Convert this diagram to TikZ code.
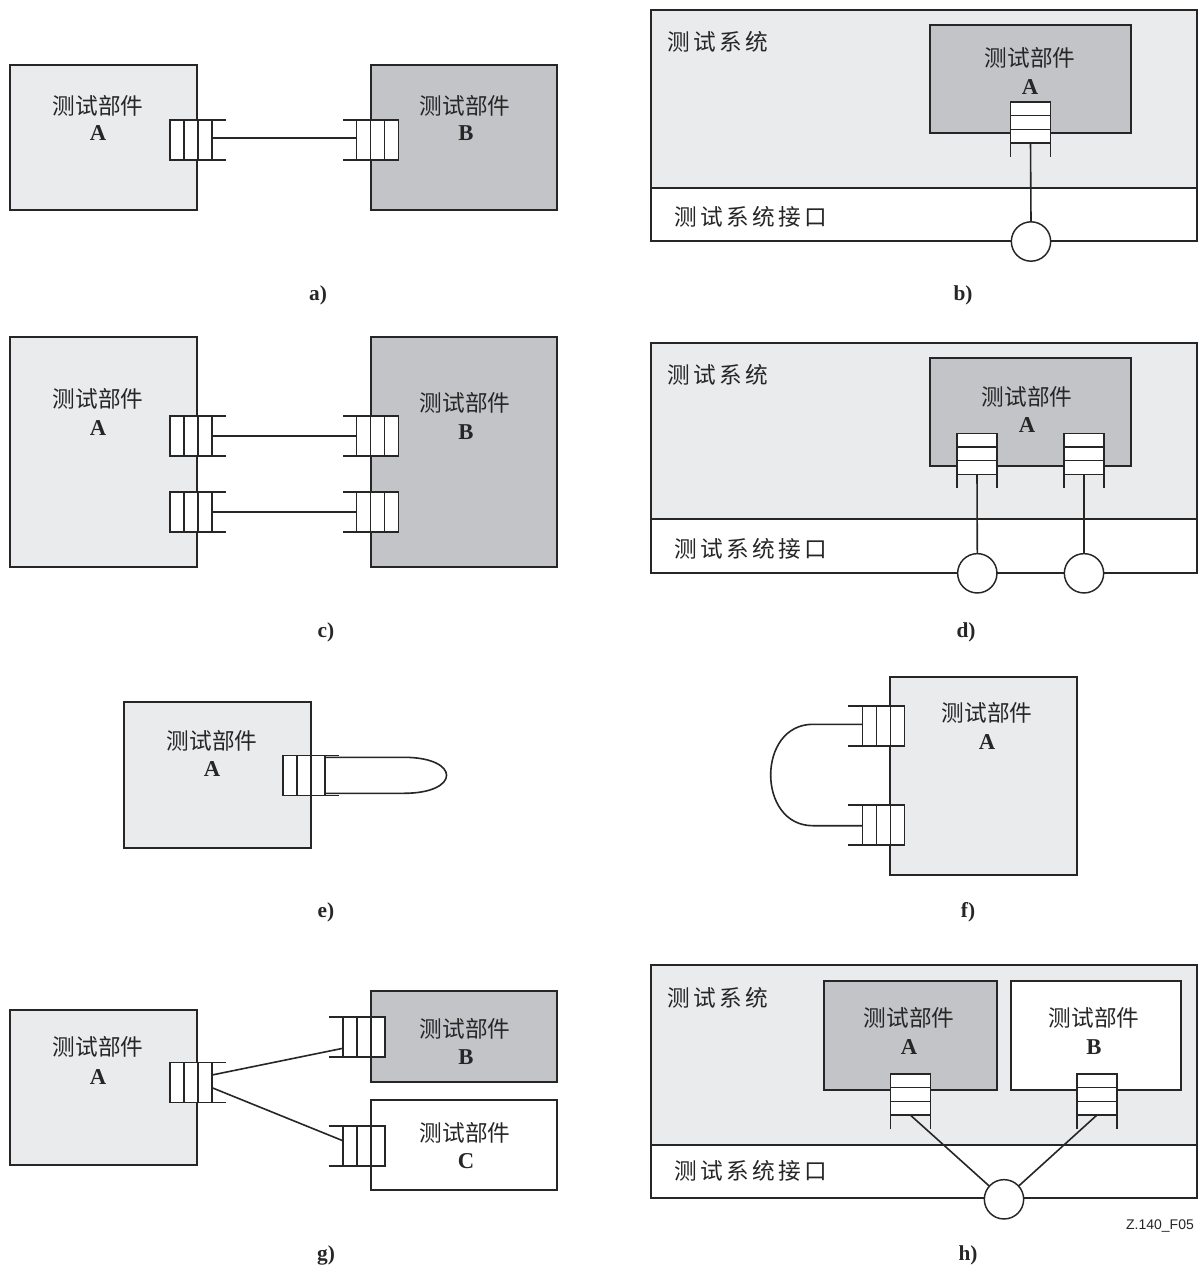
\documentclass[tikz,border=0pt]{standalone}
\usepackage{fontspec}
\setmainfont{Liberation Serif}
\setsansfont{Liberation Sans}
\newfontfamily\cjk{Noto Sans CJK SC}
\newfontfamily\cjksp{Noto Sans CJK SC}[LetterSpace=15]
\usetikzlibrary{calc}
\definecolor{lgray}{HTML}{EAEBED}
\definecolor{dgray}{HTML}{C3C4C7}
\definecolor{ln}{HTML}{262626}
\tikzset{
  bxs/.style={draw=ln, line width=1.2pt, inner sep=0pt, outer sep=0pt},
  lbox/.style={bxs, fill=lgray},
  dbox/.style={bxs, fill=dgray},
  wbox/.style={bxs, fill=white},
  pl/.style={draw=ln, line width=1.2pt},
  hport/.style={draw=ln, line width=1.2pt, fill=white, inner sep=0pt, outer sep=0pt, minimum width=31.5pt, minimum height=30pt},
  vport/.style={draw=ln, line width=1.2pt, fill=white, inner sep=0pt, outer sep=0pt, minimum width=30pt, minimum height=30.75pt},
  sap/.style={circle, draw=ln, line width=1.1pt, fill=white, inner sep=0pt, outer sep=0pt, minimum size=29.5pt},
  cj/.style={inner sep=0pt, font=\cjk\fontsize{17}{20}\selectfont, text=ln},
  cjl/.style={inner sep=0pt, anchor=west, font=\cjksp\fontsize{17}{20}\selectfont, text=ln},
  bl/.style={inner sep=0pt, font=\fontsize{17}{20}\selectfont\bfseries, text=ln},
  lab/.style={inner sep=0pt, font=\fontsize{16}{19}\selectfont\bfseries, text=ln},
}
\newcommand\bx[6]{\node[#6, anchor=north west, minimum width={(#4-#2)*0.75pt}, minimum height={(#5-#3)*0.75pt}] (#1) at (#2,#3) {};}
\newcommand\portR[3]{%
  \node[hport] (#1) at (#2,#3) {};
  \draw[pl] ($(#1.north west)!1/3!(#1.north east)$) -- ($(#1.south west)!1/3!(#1.south east)$)
            ($(#1.north west)!2/3!(#1.north east)$) -- ($(#1.south west)!2/3!(#1.south east)$)
            (#1.north east) -- ++(14,0) (#1.south east) -- ++(14,0);}
\newcommand\portL[3]{%
  \node[hport] (#1) at (#2,#3) {};
  \draw[pl] ($(#1.north west)!1/3!(#1.north east)$) -- ($(#1.south west)!1/3!(#1.south east)$)
            ($(#1.north west)!2/3!(#1.north east)$) -- ($(#1.south west)!2/3!(#1.south east)$)
            (#1.north west) -- ++(-14,0) (#1.south west) -- ++(-14,0);}
\newcommand\portD[3]{%
  \node[vport] (#1) at (#2,#3) {};
  \draw[pl] ($(#1.north west)!1/3!(#1.south west)$) -- ($(#1.north east)!1/3!(#1.south east)$)
            ($(#1.north west)!2/3!(#1.south west)$) -- ($(#1.north east)!2/3!(#1.south east)$)
            (#1.south west) -- ++(0,14) (#1.south east) -- ++(0,14);}
\begin{document}
\begin{tikzpicture}[x=0.75pt,y=-0.75pt]
\useasboundingbox (0,0) rectangle (1198,1277);
\fill[white] (0,0) rectangle (1198,1277);

% ---------- a)
\bx{aA}{10}{65}{197}{210}{lbox}
\bx{aB}{371}{65}{557}{210}{dbox}
\node[cj] (aAt) at (98,106) {测试部件};
\node[bl] (aAl) at (98,133) {A};
\node[cj] (aBt) at (465,106) {测试部件};
\node[bl] (aBl) at (466,133) {B};
\portR{apA}{191}{140}
\portL{apB}{377.5}{140}
\draw[pl] ($(apA.east)+(0,-2)$) -- ($(apB.west)+(0,-2)$);
\node[lab] (la) at (318,295) {a)};

% ---------- b)
\bx{bS}{651}{10}{1197}{241}{lbox}
\bx{bI}{651}{188}{1197}{241}{wbox}
\bx{bA}{930}{25}{1131}{133}{dbox}
\node[cjl] (bSt) at (667,42) {测试系统};
\node[cjl] (bIt) at (674,217) {测试系统接口};
\node[cj] (bAt) at (1030,58) {测试部件};
\node[bl] (bAl) at (1030,87) {A};
\portD{bp}{1030.5}{122.5}
\node[sap] (bc) at (1031,241.5) {};
\draw[pl] (bp.south) -- (bc.north);
\node[lab] (lb) at (963,295) {b)};

% ---------- c)
\bx{cA}{10}{337}{197}{567}{lbox}
\bx{cB}{371}{337}{557}{567}{dbox}
\node[cj] (cAt) at (98,399) {测试部件};
\node[bl] (cAl) at (98,428) {A};
\node[cj] (cBt) at (465,403) {测试部件};
\node[bl] (cBl) at (466,432) {B};
\portR{cpA1}{191}{435.7}
\portR{cpA2}{191}{512}
\portL{cpB1}{377.5}{435.7}
\portL{cpB2}{377.5}{512}
\draw[pl] (cpA1.east) -- (cpB1.west);
\draw[pl] (cpA2.east) -- (cpB2.west);
\node[lab] (lc) at (326,632) {c)};

% ---------- d)
\bx{dS}{651}{343}{1197}{573}{lbox}
\bx{dI}{651}{519}{1197}{573}{wbox}
\bx{dA}{930}{358}{1131}{466}{dbox}
\node[cjl] (dSt) at (667,375) {测试系统};
\node[cjl] (dIt) at (674,549) {测试系统接口};
\node[cj] (dAt) at (1027,397) {测试部件};
\node[bl] (dAl) at (1027,425) {A};
\portD{dp1}{977}{453.8}
\portD{dp2}{1084}{453.8}
\node[sap] (dc1) at (977.3,573.3) {};
\node[sap] (dc2) at (1084,573.3) {};
\draw[pl] (dp1.south) -- (dc1.north);
\draw[pl] (dp2.south) -- (dc2.north);
\node[lab] (ld) at (966,632) {d)};

% ---------- e)
\bx{eA}{124}{702}{311}{848}{lbox}
\node[cj] (eAt) at (212,741) {测试部件};
\node[bl] (eAl) at (212,769) {A};
\portR{ep}{303.8}{775.5}
\draw[pl] ($(ep.east)+(0,-18.2)$) -- ++(79,0)
   .. controls ++(57,0) and ++(57,0) .. ++(0,36)
   -- ($(ep.east)+(0,17.8)$);
\node[lab] (le) at (326,912) {e)};

% ---------- f)
\bx{fA}{890}{677}{1077}{875}{lbox}
\node[cj] (fAt) at (987,713) {测试部件};
\node[bl] (fAl) at (987,742) {A};
\portL{fp1}{883.3}{725.8}
\portL{fp2}{883.3}{825}
\draw[pl] ($(fp1.west)+(0,-1.5)$) -- ++(-49.4,0)
   .. controls ++(-56.3,0) and ++(-56.3,0) .. ($(fp2.west)+(-49.4,0.7)$)
   -- ($(fp2.west)+(0,0.7)$);
\node[lab] (lf) at (968,912) {f)};

% ---------- g)
\bx{gA}{10}{1010}{197}{1165}{lbox}
\bx{gB}{371}{991}{557}{1082}{dbox}
\bx{gC}{371}{1100}{557}{1190}{wbox}
\node[cj] (gAt) at (98,1047) {测试部件};
\node[bl] (gAl) at (98,1077) {A};
\node[cj] (gBt) at (465,1029) {测试部件};
\node[bl] (gBl) at (466,1057) {B};
\node[cj] (gCt) at (465,1133) {测试部件};
\node[bl] (gCl) at (466,1161) {C};
\portR{gpA}{191}{1082.5}
\portL{gpB}{363.8}{1036.7}
\portL{gpC}{363.8}{1146}
\draw[pl] ($(gpA.east)+(0,-7.5)$) -- ($(gpB.west)+(0,11.6)$);
\draw[pl] ($(gpA.east)+(0,5.2)$) -- ($(gpC.west)+(0,-5.3)$);
\node[lab] (lg) at (326,1255) {g)};

% ---------- h)
\bx{hS}{651}{965}{1197}{1198}{lbox}
\bx{hI}{651}{1145}{1197}{1198}{wbox}
\bx{hA}{824}{981}{997}{1090}{dbox}
\bx{hB}{1011}{981}{1181}{1090}{wbox}
\node[cjl] (hSt) at (667,998) {测试系统};
\node[cjl] (hIt) at (674,1171) {测试系统接口};
\node[cj] (hAt) at (909,1018) {测试部件};
\node[bl] (hAl) at (909,1047) {A};
\node[cj] (hBt) at (1094,1018) {测试部件};
\node[bl] (hBl) at (1094,1047) {B};
\portD{hp1}{910.3}{1094.5}
\portD{hp2}{1097}{1094.5}
\node[sap] (hc) at (1004,1199.3) {};
\draw[pl] (hp1.south) -- (hc);
\draw[pl] (hp2.south) -- (hc);
\node[inner sep=0pt, font=\sffamily\fontsize{10.5}{12}\selectfont, text=ln] (fid) at (1160,1226) {Z.140\_F05};
\node[lab] (lh) at (968,1255) {h)};
\end{tikzpicture}
\end{document}
